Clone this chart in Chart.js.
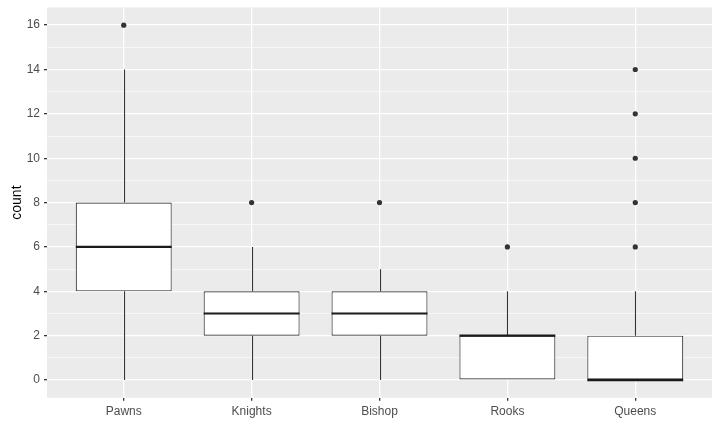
<!DOCTYPE html>
<html><head><meta charset="utf-8">
<script src="https://cdn.jsdelivr.net/npm/chart.js@4/dist/chart.umd.min.js"></script>
<style>html,body{margin:0;padding:0;background:#fff}#wrap{width:720px;height:444px}</style>
</head><body><div id="wrap"><canvas id="c" width="720" height="444"></canvas></div>
<script>
const categories = ["Pawns", "Knights", "Bishop", "Rooks", "Queens"];
const whiskerLow = [0, 0, 0, 0, 0];
const q1 = [4, 2, 2, 0, 0];
const median = [6, 3, 3, 2, 0];
const q3 = [8, 4, 4, 2, 2];
const whiskerHigh = [14, 6, 5, 4, 4];
const outliers = [[16], [8], [8], [6], [6, 8, 10, 12, 14]];
const yTicks = [0, 2, 4, 6, 8, 10, 12, 14, 16];

const boxData = categories.map((c, i) => ({x: i + 1, y: [q1[i], q3[i]]}));
const outlierData = [];
outliers.forEach((arr, i) => arr.forEach(v => outlierData.push({x: i + 1, y: v})));

const FONT = "'Liberation Sans', Arial, sans-serif";

const panelBg = {
  id: 'panelBg',
  beforeDraw(chart) {
    const a = chart.chartArea, ctx = chart.ctx;
    ctx.save(); ctx.fillStyle = '#EBEBEB';
    ctx.fillRect(a.left, a.top, a.right - a.left, a.bottom - a.top);
    ctx.restore();
  }
};

const boxParts = {
  id: 'boxParts',
  afterDatasetsDraw(chart) {
    const ctx = chart.ctx, ys = chart.scales.y;
    const meta = chart.getDatasetMeta(0);
    ctx.save();
    meta.data.forEach((bar, i) => {
      const x = Math.round(bar.x) + 0.5;
      const half = bar.width / 2;
      ctx.strokeStyle = '#333333'; ctx.lineWidth = 1.1;
      ctx.beginPath();
      ctx.moveTo(x, ys.getPixelForValue(q3[i])); ctx.lineTo(x, ys.getPixelForValue(whiskerHigh[i]));
      ctx.moveTo(x, ys.getPixelForValue(q1[i])); ctx.lineTo(x, ys.getPixelForValue(whiskerLow[i]));
      ctx.stroke();
      ctx.strokeStyle = '#1a1a1a'; ctx.lineWidth = 2.2;
      ctx.beginPath();
      const my = ys.getPixelForValue(median[i]);
      ctx.moveTo(bar.x - half, my); ctx.lineTo(bar.x + half, my);
      ctx.stroke();
    });
    ctx.restore();
  }
};

new Chart(document.getElementById('c'), {
  type: 'bar',
  data: {
    datasets: [
      {type: 'bar', data: boxData, backgroundColor: '#FFFFFF', borderColor: '#333333',
       borderWidth: 1.1, borderSkipped: false, barPercentage: 0.75, categoryPercentage: 1, order: 2},
      {type: 'scatter', data: outlierData, backgroundColor: '#333333', borderColor: '#333333',
       pointRadius: 2.6, pointBorderWidth: 0, order: 1}
    ]
  },
  options: {
    responsive: false, animation: false,
    layout: {padding: {left: 0, right: 8, top: 7.4, bottom: 0}},
    plugins: {legend: {display: false}, tooltip: {enabled: false}},
    scales: {
      x: {
        type: 'linear', min: 0.4, max: 5.6, offset: false,
        afterBuildTicks(axis) { axis.ticks = categories.map((c, i) => ({value: i + 1})); },
        afterFit(axis) { axis.height = 46.2; axis.paddingLeft = 0; axis.paddingRight = 0; },
        grid: {offset: false, color: '#FFFFFF', lineWidth: 1.3, tickColor: '#333333', tickLength: 3, drawOnChartArea: true},
        border: {display: false},
        ticks: {callback: v => categories[v - 1] || '', color: '#4D4D4D', font: {family: FONT, size: 12}, padding: 4, maxRotation: 0, autoSkip: false}
      },
      y: {
        type: 'linear', min: -0.8, max: 16.8,
        afterBuildTicks(axis) {
          const t = []; for (let v = 0; v <= 16; v++) t.push({value: v}); axis.ticks = t;
        },
        afterFit(axis) { axis.width = 47; axis.paddingTop = 0; axis.paddingBottom = 0; },
        grid: {
          color: '#FFFFFF',
          lineWidth: ctx => (ctx.tick && ctx.tick.value % 2 === 0) ? 1.3 : 0.6,
          tickColor: ctx => (ctx.tick && ctx.tick.value % 2 === 0) ? '#333333' : 'rgba(0,0,0,0)',
          tickLength: 3
        },
        border: {display: false},
        ticks: {callback: v => (v % 2 === 0 ? String(v) : ''), color: '#4D4D4D', font: {family: FONT, size: 12}, padding: 4, autoSkip: false},
        title: {display: true, text: 'count', color: '#000000', font: {family: FONT, size: 14}, padding: {top: 9, bottom: 0}}
      }
    }
  },
  plugins: [panelBg, boxParts]
});
</script>
</body></html>
